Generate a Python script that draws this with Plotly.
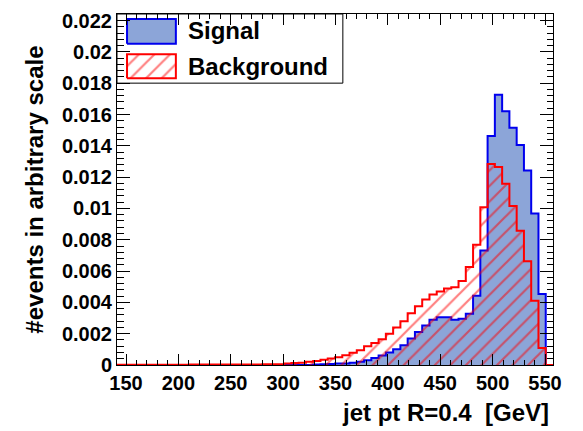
import plotly.graph_objects as go
import numpy as np

# Histogram definition (jet pt R=0.4, GeV)
x_min = 141.4
x_max = 557.6
n_bins = 60

# Normalised bin contents (60 bins)
signal = [0.0] * 27 + [
    0.00003, 0.00005, 0.00007, 0.0001, 0.0001, 0.00015, 0.0002, 0.0003, 0.00045,
    0.0006, 0.0008, 0.001, 0.00126, 0.00169, 0.0021, 0.00253, 0.00289, 0.00305,
    0.00305, 0.00289, 0.00295, 0.00327, 0.00442, 0.00732, 0.01463, 0.01726,
    0.01621, 0.01516, 0.01406, 0.01242, 0.00968, 0.00453, 0.0,
]
background = [0.00002] * 10 + [0.00003] * 10 + [
    0.00005, 0.00005, 0.00005, 0.0001, 0.00012, 0.00015, 0.0002, 0.00025, 0.00033,
    0.00042, 0.0005, 0.00063, 0.00078, 0.00095, 0.0012, 0.0014, 0.00165, 0.002,
    0.0024, 0.0028, 0.0033, 0.00376, 0.00418, 0.0045, 0.0047, 0.00488, 0.00497,
    0.00537, 0.00626, 0.00768, 0.01007, 0.01284, 0.01265, 0.01158, 0.01015,
    0.00857, 0.00663, 0.00411, 0.00109, 0.0,
]
y_max = 0.02242

x_ticks = [150, 200, 250, 300, 350, 400, 450, 500, 550]
legend_labels = ["Signal", "Background"]

edges = np.linspace(x_min, x_max, n_bins + 1)

SIG_FILL = "#8ca5d8"
SIG_LINE = "#0000ee"
BKG_LINE = "#ff0000"
FONT = "Liberation Sans"
HATCH = dict(shape="/", fgcolor=BKG_LINE, size=11, solidity=0.2)

fig = go.Figure()

fig.add_trace(go.Scatter(
    x=edges, y=signal + [signal[-1]], mode="lines", line_shape="hv",
    fill="tozeroy", fillcolor=SIG_FILL,
    line=dict(color=SIG_LINE, width=2), showlegend=False, hoverinfo="skip",
))
fig.add_trace(go.Scatter(
    x=edges, y=background + [background[-1]], mode="lines", line_shape="hv",
    fill="tozeroy", fillcolor="rgba(0,0,0,0)", fillpattern=HATCH,
    line=dict(color=BKG_LINE, width=2), showlegend=False, hoverinfo="skip",
))

# Custom ROOT-style legend on an overlay [0,1] axis pair
def box(x0, x1, y0, y1):
    return [x0, x1, x1, x0, x0], [y0, y0, y1, y1, y0]

bx, by = box(0.023, 0.135, 0.915, 0.986)
fig.add_trace(go.Scatter(
    x=bx, y=by, xaxis="x2", yaxis="y2", mode="lines", fill="toself",
    fillcolor=SIG_FILL, line=dict(color=SIG_LINE, width=2),
    showlegend=False, hoverinfo="skip",
))
bx, by = box(0.023, 0.135, 0.817, 0.885)
fig.add_trace(go.Scatter(
    x=bx, y=by, xaxis="x2", yaxis="y2", mode="lines", fill="toself",
    fillcolor="rgba(0,0,0,0)", fillpattern=HATCH,
    line=dict(color=BKG_LINE, width=2), showlegend=False, hoverinfo="skip",
))

fig.add_shape(type="rect", xref="paper", yref="paper", x0=0, x1=0.518,
              y0=0.803, y1=1.0, line=dict(color="black", width=1),
              fillcolor="white", layer="below")

for lab, yy in zip(legend_labels, [0.952, 0.851]):
    fig.add_annotation(text=lab, xref="paper", yref="paper", x=0.158, y=yy,
                       xanchor="left", yanchor="middle", showarrow=False,
                       font=dict(family=FONT, size=24, color="black", weight="bold"))

fig.add_annotation(text="jet pt R=0.4  [GeV]", xref="paper", yref="paper",
                   x=0.995, y=-0.135, xanchor="right", yanchor="middle",
                   showarrow=False,
                   font=dict(family=FONT, size=24, color="black", weight="bold"))
fig.add_annotation(text="#events in arbitrary scale", xref="paper", yref="paper",
                   x=-0.19, y=0.5, xanchor="center", yanchor="middle",
                   textangle=-90, showarrow=False,
                   font=dict(family=FONT, size=24, color="black", weight="bold"))

tickfont = dict(family=FONT, size=20, color="black", weight="bold")

fig.update_layout(
    width=583, height=431,
    margin=dict(l=117, r=30, t=10, b=66),
    paper_bgcolor="white", plot_bgcolor="white",
    xaxis=dict(
        range=[x_min, x_max], tickvals=x_ticks, ticks="inside", ticklen=11,
        tickcolor="black", showline=True, linecolor="black", linewidth=1,
        mirror="allticks", showgrid=False, zeroline=False, tickfont=tickfont,
        minor=dict(dtick=10, ticks="inside", ticklen=5, tickcolor="black",
                   showgrid=False),
    ),
    yaxis=dict(
        range=[0, y_max], dtick=0.002, tick0=0, ticks="inside", ticklen=13,
        tickcolor="black", showline=True, linecolor="black", linewidth=1,
        mirror="allticks", showgrid=False, zeroline=False, tickfont=tickfont,
        minor=dict(dtick=0.0004, ticks="inside", ticklen=6.5, tickcolor="black",
                   showgrid=False),
    ),
    xaxis2=dict(range=[0, 1], overlaying="x", visible=False, fixedrange=True),
    yaxis2=dict(range=[0, 1], overlaying="y", visible=False, fixedrange=True),
)

fig.write_html("out.html")
